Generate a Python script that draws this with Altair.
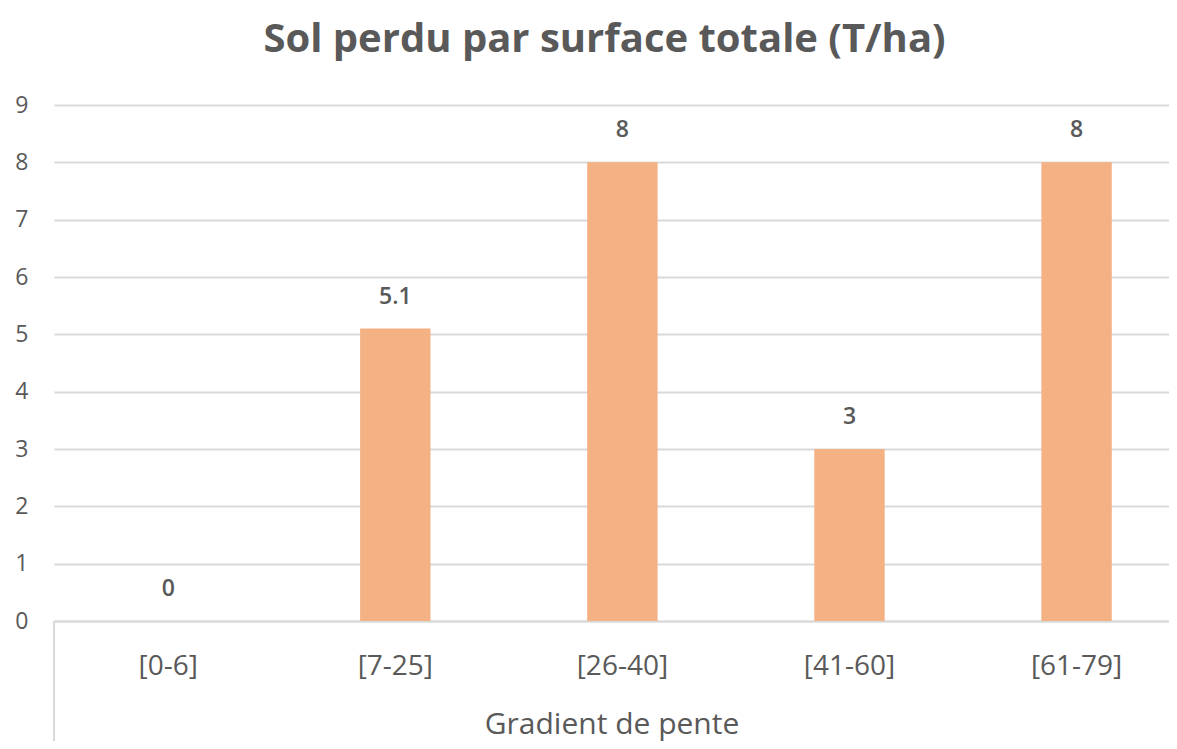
import altair as alt
import pandas as pd

categories = ["[0-6]", "[7-25]", "[26-40]", "[41-60]", "[61-79]"]
values = [0, 5.1, 8, 3, 8]
labels = ["0", "5.1", "8", "3", "8"]
y_ticks = [0, 1, 2, 3, 4, 5, 6, 7, 8, 9]

df = pd.DataFrame({"cat": categories, "val": values, "lab": labels})

FONT = "Open Sans"
TXT = "#595959"
W, H = 1115, 516

x_enc = alt.X("cat:N", sort=categories,
              scale=alt.Scale(paddingInner=0.69, paddingOuter=0.30, align=0.58),
              axis=alt.Axis(title="Gradient de pente", labelAngle=0, labelFontSize=28,
                            labelColor=TXT, labelFont=FONT, labelPadding=31,
                            ticks=False, domain=True, domainColor="#D9D9D9", domainWidth=2,
                            titleFontSize=30, titleFont=FONT, titleColor=TXT,
                            titleFontWeight="normal", titlePadding=29))
y_enc = alt.Y("val:Q", scale=alt.Scale(domain=[0, 9], nice=False),
              axis=alt.Axis(title=None, values=y_ticks, format="d", labelFontSize=23,
                            labelColor=TXT, labelFont=FONT, labelPadding=26, ticks=False,
                            domain=False, gridColor="#D9D9D9", gridWidth=2))

bars = alt.Chart(df).mark_bar(color="#F4B183").encode(x=x_enc, y=y_enc)

text = alt.Chart(df).mark_text(baseline="bottom", dy=-20, fontSize=23, font=FONT,
                               fontWeight=600, color=TXT).encode(
    x=alt.X("cat:N", sort=categories), y=alt.Y("val:Q"), text="lab:N")

vline = alt.Chart(df).mark_rule(color="#D9D9D9", strokeWidth=2).encode(
    x=alt.value(0), y=alt.value(H), y2=alt.value(H + 130))

chart = alt.layer(bars, text, vline).properties(
    width=W, height=H,
    title=alt.TitleParams("Sol perdu par surface totale (T/ha)", fontSize=40,
                          font=FONT, fontWeight="bold", color=TXT, offset=34,
                          anchor="middle", dx=-7),
    autosize=alt.AutoSizeParams(type="none"),
    padding={"left": 46, "top": 97, "right": 0, "bottom": 120},
).configure_view(stroke=None)

chart.save("out.html", embed_options={"renderer": "svg", "actions": False})
